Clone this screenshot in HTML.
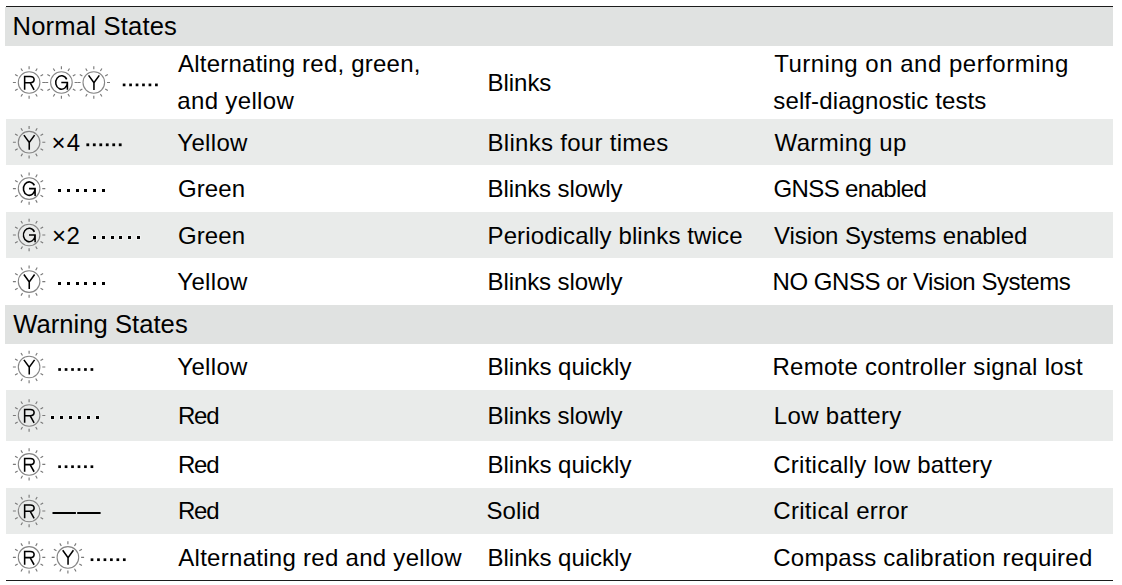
<!DOCTYPE html>
<html><head><meta charset="utf-8"><style>
html,body{margin:0;padding:0;background:#fff;}
body{width:1122px;height:585px;position:relative;overflow:hidden;font-family:"Liberation Sans",sans-serif;}
.r{position:absolute;}
.t{position:absolute;white-space:nowrap;color:#000;}
.ic{position:absolute;overflow:visible;}
</style></head><body>
<div class="r" style="left:6px;top:6px;width:1107px;height:1px;background:#1c1c1c"></div>
<div class="r" style="left:6px;top:580px;width:1107px;height:1px;background:#1c1c1c"></div>
<div class="r" style="left:5px;top:7px;width:1108px;height:39px;background:#e0e2e1"></div>
<div class="r" style="left:6px;top:119px;width:1107px;height:46px;background:#e9ebea"></div>
<div class="r" style="left:6px;top:212px;width:1107px;height:46px;background:#e9ebea"></div>
<div class="r" style="left:5px;top:305px;width:1108px;height:39px;background:#e0e2e1"></div>
<div class="r" style="left:6px;top:390px;width:1107px;height:51px;background:#e9ebea"></div>
<div class="r" style="left:6px;top:488px;width:1107px;height:46px;background:#e9ebea"></div>
<div class="t" id="h1" style="left:12.50px;top:13.65px;font-size:25.6px;line-height:25.6px;letter-spacing:0.187px">Normal States</div>
<div class="t" id="h2" style="left:13.18px;top:311.65px;font-size:25.6px;line-height:25.6px;letter-spacing:0.037px">Warning States</div>
<div class="t" id="a1" style="left:178.10px;top:52.01px;font-size:24px;line-height:24px;letter-spacing:0.218px">Alternating red, green,</div>
<div class="t" id="a2" style="left:177.30px;top:89.01px;font-size:24px;line-height:24px;letter-spacing:0.338px">and yellow</div>
<div class="t" id="a3" style="left:487.50px;top:71.01px;font-size:24px;line-height:24px;letter-spacing:-0.032px">Blinks</div>
<div class="t" id="a4" style="left:774.14px;top:52.01px;font-size:24px;line-height:24px;letter-spacing:0.507px">Turning on and performing</div>
<div class="t" id="a5" style="left:773.34px;top:89.01px;font-size:24px;line-height:24px;letter-spacing:0.112px">self-diagnostic tests</div>
<div class="t" id="b2" style="left:177.34px;top:131.01px;font-size:24px;line-height:24px;letter-spacing:0.320px">Yellow</div>
<div class="t" id="b3" style="left:487.50px;top:131.01px;font-size:24px;line-height:24px;letter-spacing:0.290px">Blinks four times</div>
<div class="t" id="b4" style="left:774.52px;top:131.01px;font-size:24px;line-height:24px;letter-spacing:0.373px">Warming up</div>
<div class="t" id="c2" style="left:177.92px;top:177.01px;font-size:24px;line-height:24px;letter-spacing:0.120px">Green</div>
<div class="t" id="c3" style="left:487.50px;top:177.01px;font-size:24px;line-height:24px;letter-spacing:-0.093px">Blinks slowly</div>
<div class="t" id="c4" style="left:773.42px;top:177.01px;font-size:24px;line-height:24px;letter-spacing:-0.596px">GNSS enabled</div>
<div class="t" id="d2" style="left:177.92px;top:224.01px;font-size:24px;line-height:24px;letter-spacing:0.120px">Green</div>
<div class="t" id="d3" style="left:487.50px;top:224.01px;font-size:24px;line-height:24px;letter-spacing:0.120px">Periodically blinks twice</div>
<div class="t" id="d4" style="left:774.10px;top:224.01px;font-size:24px;line-height:24px;letter-spacing:-0.114px">Vision Systems enabled</div>
<div class="t" id="e2" style="left:177.34px;top:270.01px;font-size:24px;line-height:24px;letter-spacing:0.320px">Yellow</div>
<div class="t" id="e3" style="left:487.50px;top:270.01px;font-size:24px;line-height:24px;letter-spacing:-0.093px">Blinks slowly</div>
<div class="t" id="e4" style="left:772.50px;top:270.01px;font-size:24px;line-height:24px;letter-spacing:-0.447px">NO GNSS or Vision Systems</div>
<div class="t" id="f2" style="left:177.34px;top:355.01px;font-size:24px;line-height:24px;letter-spacing:0.320px">Yellow</div>
<div class="t" id="f3" style="left:487.50px;top:355.01px;font-size:24px;line-height:24px;letter-spacing:-0.012px">Blinks quickly</div>
<div class="t" id="f4" style="left:772.46px;top:355.01px;font-size:24px;line-height:24px;letter-spacing:0.269px">Remote controller signal lost</div>
<div class="t" id="g2" style="left:177.96px;top:404.01px;font-size:24px;line-height:24px;letter-spacing:-1.200px">Red</div>
<div class="t" id="g3" style="left:487.50px;top:404.01px;font-size:24px;line-height:24px;letter-spacing:-0.093px">Blinks slowly</div>
<div class="t" id="g4" style="left:773.75px;top:404.01px;font-size:24px;line-height:24px;letter-spacing:0.352px">Low battery</div>
<div class="t" id="i2" style="left:177.96px;top:453.01px;font-size:24px;line-height:24px;letter-spacing:-1.200px">Red</div>
<div class="t" id="i3" style="left:487.50px;top:453.01px;font-size:24px;line-height:24px;letter-spacing:-0.012px">Blinks quickly</div>
<div class="t" id="i4" style="left:773.26px;top:453.01px;font-size:24px;line-height:24px;letter-spacing:0.259px">Critically low battery</div>
<div class="t" id="j2" style="left:177.96px;top:499.01px;font-size:24px;line-height:24px;letter-spacing:-1.200px">Red</div>
<div class="t" id="j3" style="left:486.50px;top:499.01px;font-size:24px;line-height:24px;letter-spacing:0.080px">Solid</div>
<div class="t" id="j4" style="left:773.26px;top:499.01px;font-size:24px;line-height:24px;letter-spacing:0.320px">Critical error</div>
<div class="t" id="k2" style="left:178.26px;top:546.01px;font-size:24px;line-height:24px;letter-spacing:0.282px">Alternating red and yellow</div>
<div class="t" id="k3" style="left:487.50px;top:546.01px;font-size:24px;line-height:24px;letter-spacing:-0.012px">Blinks quickly</div>
<div class="t" id="k4" style="left:773.26px;top:546.01px;font-size:24px;line-height:24px;letter-spacing:0.255px">Compass calibration required</div>
<div class="t" id="x4" style="left:51.50px;top:131.01px;font-size:24px;line-height:24px;letter-spacing:1.120px">×4</div>
<div class="t" id="x2" style="left:51.92px;top:224.01px;font-size:24px;line-height:24px;letter-spacing:0.640px">×2</div>
<svg class="ic" style="left:0;top:0" width="1122" height="585"><g fill="none" stroke="#000" stroke-width="1.55"><g transform="translate(29.1 82.5)"><g><circle r="10.8" fill="none" stroke="#858585" stroke-width="1.1"/><path d="M13.20 0.00L16.20 0.00M11.43 6.60L14.03 8.10M6.60 11.43L8.10 14.03M0.00 13.20L0.00 16.20M-6.60 11.43L-8.10 14.03M-11.43 6.60L-14.03 8.10M-13.20 0.00L-16.20 0.00M-11.43 -6.60L-14.03 -8.10M-6.60 -11.43L-8.10 -14.03M-0.00 -13.20L-0.00 -16.20M6.60 -11.43L8.10 -14.03M11.43 -6.60L14.03 -8.10" stroke="#7a7a7a" stroke-width="1.15" fill="none"/></g><path d="M-4.45 7.35V-6.0H1.1C3.7 -6.0 5.0 -4.6 5.0 -2.9C5.0 -1.1 3.7 0.2 1.1 0.2H-4.45M1.0 0.2L5.0 7.35"/></g><g transform="translate(61.4 82.5)"><g><circle r="10.8" fill="none" stroke="#858585" stroke-width="1.1"/><path d="M13.20 0.00L16.20 0.00M11.43 6.60L14.03 8.10M6.60 11.43L8.10 14.03M0.00 13.20L0.00 16.20M-6.60 11.43L-8.10 14.03M-11.43 6.60L-14.03 8.10M-13.20 0.00L-16.20 0.00M-11.43 -6.60L-14.03 -8.10M-6.60 -11.43L-8.10 -14.03M-0.00 -13.20L-0.00 -16.20M6.60 -11.43L8.10 -14.03M11.43 -6.60L14.03 -8.10" stroke="#7a7a7a" stroke-width="1.15" fill="none"/></g><path d="M5.29 -3.2A5.85 6.7 0 1 0 6.0 0M6.0 0V7.3M-0.1 0H6.75"/></g><g transform="translate(93.8 82.5)"><g><circle r="10.8" fill="none" stroke="#858585" stroke-width="1.1"/><path d="M13.20 0.00L16.20 0.00M11.43 6.60L14.03 8.10M6.60 11.43L8.10 14.03M0.00 13.20L0.00 16.20M-6.60 11.43L-8.10 14.03M-11.43 6.60L-14.03 8.10M-13.20 0.00L-16.20 0.00M-11.43 -6.60L-14.03 -8.10M-6.60 -11.43L-8.10 -14.03M-0.00 -13.20L-0.00 -16.20M6.60 -11.43L8.10 -14.03M11.43 -6.60L14.03 -8.10" stroke="#7a7a7a" stroke-width="1.15" fill="none"/></g><path d="M-5.2 -7.1L0.15 0.3L5.5 -7.1M0.15 0.3V7.45"/></g><g transform="translate(29.1 142.2)"><g><circle r="10.8" fill="none" stroke="#858585" stroke-width="1.1"/><path d="M13.20 0.00L16.20 0.00M11.43 6.60L14.03 8.10M6.60 11.43L8.10 14.03M0.00 13.20L0.00 16.20M-6.60 11.43L-8.10 14.03M-11.43 6.60L-14.03 8.10M-13.20 0.00L-16.20 0.00M-11.43 -6.60L-14.03 -8.10M-6.60 -11.43L-8.10 -14.03M-0.00 -13.20L-0.00 -16.20M6.60 -11.43L8.10 -14.03M11.43 -6.60L14.03 -8.10" stroke="#7a7a7a" stroke-width="1.15" fill="none"/></g><path d="M-5.2 -7.1L0.15 0.3L5.5 -7.1M0.15 0.3V7.45"/></g><g transform="translate(29.1 188.6)"><g><circle r="10.8" fill="none" stroke="#858585" stroke-width="1.1"/><path d="M13.20 0.00L16.20 0.00M11.43 6.60L14.03 8.10M6.60 11.43L8.10 14.03M0.00 13.20L0.00 16.20M-6.60 11.43L-8.10 14.03M-11.43 6.60L-14.03 8.10M-13.20 0.00L-16.20 0.00M-11.43 -6.60L-14.03 -8.10M-6.60 -11.43L-8.10 -14.03M-0.00 -13.20L-0.00 -16.20M6.60 -11.43L8.10 -14.03M11.43 -6.60L14.03 -8.10" stroke="#7a7a7a" stroke-width="1.15" fill="none"/></g><path d="M5.29 -3.2A5.85 6.7 0 1 0 6.0 0M6.0 0V7.3M-0.1 0H6.75"/></g><g transform="translate(29.1 235)"><g><circle r="10.8" fill="none" stroke="#858585" stroke-width="1.1"/><path d="M13.20 0.00L16.20 0.00M11.43 6.60L14.03 8.10M6.60 11.43L8.10 14.03M0.00 13.20L0.00 16.20M-6.60 11.43L-8.10 14.03M-11.43 6.60L-14.03 8.10M-13.20 0.00L-16.20 0.00M-11.43 -6.60L-14.03 -8.10M-6.60 -11.43L-8.10 -14.03M-0.00 -13.20L-0.00 -16.20M6.60 -11.43L8.10 -14.03M11.43 -6.60L14.03 -8.10" stroke="#7a7a7a" stroke-width="1.15" fill="none"/></g><path d="M5.29 -3.2A5.85 6.7 0 1 0 6.0 0M6.0 0V7.3M-0.1 0H6.75"/></g><g transform="translate(29.1 281.6)"><g><circle r="10.8" fill="none" stroke="#858585" stroke-width="1.1"/><path d="M13.20 0.00L16.20 0.00M11.43 6.60L14.03 8.10M6.60 11.43L8.10 14.03M0.00 13.20L0.00 16.20M-6.60 11.43L-8.10 14.03M-11.43 6.60L-14.03 8.10M-13.20 0.00L-16.20 0.00M-11.43 -6.60L-14.03 -8.10M-6.60 -11.43L-8.10 -14.03M-0.00 -13.20L-0.00 -16.20M6.60 -11.43L8.10 -14.03M11.43 -6.60L14.03 -8.10" stroke="#7a7a7a" stroke-width="1.15" fill="none"/></g><path d="M-5.2 -7.1L0.15 0.3L5.5 -7.1M0.15 0.3V7.45"/></g><g transform="translate(29.1 367)"><g><circle r="10.8" fill="none" stroke="#858585" stroke-width="1.1"/><path d="M13.20 0.00L16.20 0.00M11.43 6.60L14.03 8.10M6.60 11.43L8.10 14.03M0.00 13.20L0.00 16.20M-6.60 11.43L-8.10 14.03M-11.43 6.60L-14.03 8.10M-13.20 0.00L-16.20 0.00M-11.43 -6.60L-14.03 -8.10M-6.60 -11.43L-8.10 -14.03M-0.00 -13.20L-0.00 -16.20M6.60 -11.43L8.10 -14.03M11.43 -6.60L14.03 -8.10" stroke="#7a7a7a" stroke-width="1.15" fill="none"/></g><path d="M-5.2 -7.1L0.15 0.3L5.5 -7.1M0.15 0.3V7.45"/></g><g transform="translate(29.1 415.5)"><g><circle r="10.8" fill="none" stroke="#858585" stroke-width="1.1"/><path d="M13.20 0.00L16.20 0.00M11.43 6.60L14.03 8.10M6.60 11.43L8.10 14.03M0.00 13.20L0.00 16.20M-6.60 11.43L-8.10 14.03M-11.43 6.60L-14.03 8.10M-13.20 0.00L-16.20 0.00M-11.43 -6.60L-14.03 -8.10M-6.60 -11.43L-8.10 -14.03M-0.00 -13.20L-0.00 -16.20M6.60 -11.43L8.10 -14.03M11.43 -6.60L14.03 -8.10" stroke="#7a7a7a" stroke-width="1.15" fill="none"/></g><path d="M-4.45 7.35V-6.0H1.1C3.7 -6.0 5.0 -4.6 5.0 -2.9C5.0 -1.1 3.7 0.2 1.1 0.2H-4.45M1.0 0.2L5.0 7.35"/></g><g transform="translate(29.1 464.4)"><g><circle r="10.8" fill="none" stroke="#858585" stroke-width="1.1"/><path d="M13.20 0.00L16.20 0.00M11.43 6.60L14.03 8.10M6.60 11.43L8.10 14.03M0.00 13.20L0.00 16.20M-6.60 11.43L-8.10 14.03M-11.43 6.60L-14.03 8.10M-13.20 0.00L-16.20 0.00M-11.43 -6.60L-14.03 -8.10M-6.60 -11.43L-8.10 -14.03M-0.00 -13.20L-0.00 -16.20M6.60 -11.43L8.10 -14.03M11.43 -6.60L14.03 -8.10" stroke="#7a7a7a" stroke-width="1.15" fill="none"/></g><path d="M-4.45 7.35V-6.0H1.1C3.7 -6.0 5.0 -4.6 5.0 -2.9C5.0 -1.1 3.7 0.2 1.1 0.2H-4.45M1.0 0.2L5.0 7.35"/></g><g transform="translate(29.1 511)"><g><circle r="10.8" fill="none" stroke="#858585" stroke-width="1.1"/><path d="M13.20 0.00L16.20 0.00M11.43 6.60L14.03 8.10M6.60 11.43L8.10 14.03M0.00 13.20L0.00 16.20M-6.60 11.43L-8.10 14.03M-11.43 6.60L-14.03 8.10M-13.20 0.00L-16.20 0.00M-11.43 -6.60L-14.03 -8.10M-6.60 -11.43L-8.10 -14.03M-0.00 -13.20L-0.00 -16.20M6.60 -11.43L8.10 -14.03M11.43 -6.60L14.03 -8.10" stroke="#7a7a7a" stroke-width="1.15" fill="none"/></g><path d="M-4.45 7.35V-6.0H1.1C3.7 -6.0 5.0 -4.6 5.0 -2.9C5.0 -1.1 3.7 0.2 1.1 0.2H-4.45M1.0 0.2L5.0 7.35"/></g><g transform="translate(29.1 557.4)"><g><circle r="10.8" fill="none" stroke="#858585" stroke-width="1.1"/><path d="M13.20 0.00L16.20 0.00M11.43 6.60L14.03 8.10M6.60 11.43L8.10 14.03M0.00 13.20L0.00 16.20M-6.60 11.43L-8.10 14.03M-11.43 6.60L-14.03 8.10M-13.20 0.00L-16.20 0.00M-11.43 -6.60L-14.03 -8.10M-6.60 -11.43L-8.10 -14.03M-0.00 -13.20L-0.00 -16.20M6.60 -11.43L8.10 -14.03M11.43 -6.60L14.03 -8.10" stroke="#7a7a7a" stroke-width="1.15" fill="none"/></g><path d="M-4.45 7.35V-6.0H1.1C3.7 -6.0 5.0 -4.6 5.0 -2.9C5.0 -1.1 3.7 0.2 1.1 0.2H-4.45M1.0 0.2L5.0 7.35"/></g><g transform="translate(67.9 557.4)"><g><circle r="10.8" fill="none" stroke="#858585" stroke-width="1.1"/><path d="M13.20 0.00L16.20 0.00M11.43 6.60L14.03 8.10M6.60 11.43L8.10 14.03M0.00 13.20L0.00 16.20M-6.60 11.43L-8.10 14.03M-11.43 6.60L-14.03 8.10M-13.20 0.00L-16.20 0.00M-11.43 -6.60L-14.03 -8.10M-6.60 -11.43L-8.10 -14.03M-0.00 -13.20L-0.00 -16.20M6.60 -11.43L8.10 -14.03M11.43 -6.60L14.03 -8.10" stroke="#7a7a7a" stroke-width="1.15" fill="none"/></g><path d="M-5.2 -7.1L0.15 0.3L5.5 -7.1M0.15 0.3V7.45"/></g></g><g fill="#fff" fill-opacity="0.4"><rect x="92" y="235" width="5" height="5"/><rect x="101" y="235" width="5" height="5"/><rect x="110" y="235" width="5" height="5"/><rect x="118" y="235" width="5" height="5"/><rect x="127" y="235" width="5" height="5"/><rect x="136" y="235" width="5" height="5"/><rect x="50" y="415" width="5" height="5"/><rect x="59" y="415" width="5" height="5"/><rect x="68" y="415" width="5" height="5"/><rect x="77" y="415" width="5" height="5"/><rect x="86" y="415" width="5" height="5"/><rect x="95" y="415" width="5" height="5"/></g><g fill="#000"><rect x="122.75" y="83.55" width="2.7" height="2.7"/><rect x="129.21" y="83.55" width="2.7" height="2.7"/><rect x="135.67" y="83.55" width="2.7" height="2.7"/><rect x="142.13" y="83.55" width="2.7" height="2.7"/><rect x="148.59" y="83.55" width="2.7" height="2.7"/><rect x="155.05" y="83.55" width="2.7" height="2.7"/><rect x="86.40" y="143.40" width="2.8" height="2.8"/><rect x="92.88" y="143.40" width="2.8" height="2.8"/><rect x="99.36" y="143.40" width="2.8" height="2.8"/><rect x="105.84" y="143.40" width="2.8" height="2.8"/><rect x="112.32" y="143.40" width="2.8" height="2.8"/><rect x="118.80" y="143.40" width="2.8" height="2.8"/><rect x="58" y="189" width="3" height="3"/><rect x="67" y="189" width="3" height="3"/><rect x="76" y="189" width="3" height="3"/><rect x="84" y="189" width="3" height="3"/><rect x="93" y="189" width="3" height="3"/><rect x="102" y="189" width="3" height="3"/><rect x="93" y="236" width="3" height="3"/><rect x="102" y="236" width="3" height="3"/><rect x="111" y="236" width="3" height="3"/><rect x="119" y="236" width="3" height="3"/><rect x="128" y="236" width="3" height="3"/><rect x="137" y="236" width="3" height="3"/><rect x="58" y="282" width="3" height="3"/><rect x="67" y="282" width="3" height="3"/><rect x="76" y="282" width="3" height="3"/><rect x="84" y="282" width="3" height="3"/><rect x="93" y="282" width="3" height="3"/><rect x="102" y="282" width="3" height="3"/><rect x="58.25" y="368.15" width="2.7" height="2.7"/><rect x="64.71" y="368.15" width="2.7" height="2.7"/><rect x="71.17" y="368.15" width="2.7" height="2.7"/><rect x="77.63" y="368.15" width="2.7" height="2.7"/><rect x="84.09" y="368.15" width="2.7" height="2.7"/><rect x="90.55" y="368.15" width="2.7" height="2.7"/><rect x="51" y="416" width="3" height="3"/><rect x="60" y="416" width="3" height="3"/><rect x="69" y="416" width="3" height="3"/><rect x="78" y="416" width="3" height="3"/><rect x="87" y="416" width="3" height="3"/><rect x="96" y="416" width="3" height="3"/><rect x="58.25" y="465.35" width="2.7" height="2.7"/><rect x="64.71" y="465.35" width="2.7" height="2.7"/><rect x="71.17" y="465.35" width="2.7" height="2.7"/><rect x="77.63" y="465.35" width="2.7" height="2.7"/><rect x="84.09" y="465.35" width="2.7" height="2.7"/><rect x="90.55" y="465.35" width="2.7" height="2.7"/><rect x="52.5" y="512" width="23.4" height="2"/><rect x="77.2" y="512" width="23.4" height="2"/><rect x="90.65" y="558.35" width="2.7" height="2.7"/><rect x="97.11" y="558.35" width="2.7" height="2.7"/><rect x="103.57" y="558.35" width="2.7" height="2.7"/><rect x="110.03" y="558.35" width="2.7" height="2.7"/><rect x="116.49" y="558.35" width="2.7" height="2.7"/><rect x="122.95" y="558.35" width="2.7" height="2.7"/></g></svg>
</body></html>
